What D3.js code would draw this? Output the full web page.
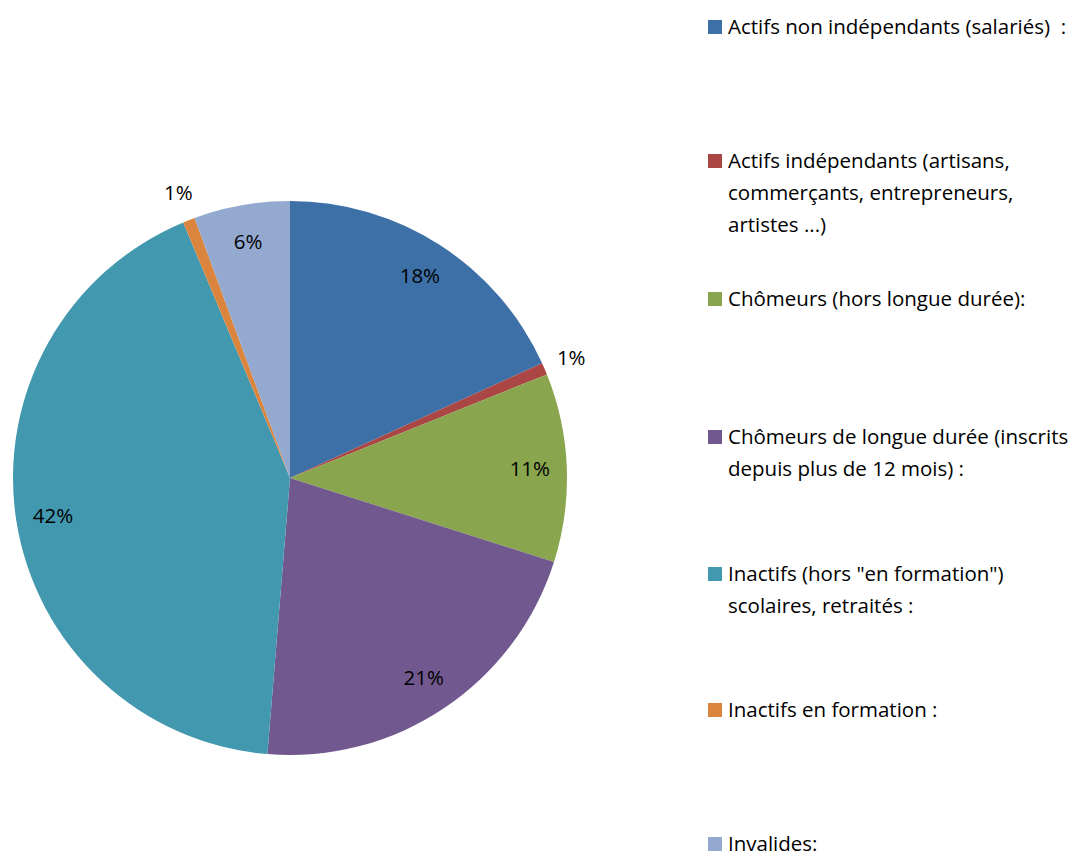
<!DOCTYPE html>
<html>
<head>
<meta charset="utf-8">
<script src="https://cdn.jsdelivr.net/npm/d3@7"></script>
<style>
  body { margin: 0; background: #fff; }
  svg { font-family: "Open Sans", Lato, sans-serif; }
</style>
</head>
<body>
<div id="chart"></div>
<script>
// Data
const categories = [
    ["Actifs non indépendants (salariés)  :"],
    ["Actifs indépendants (artisans,", "commerçants, entrepreneurs,", "artistes ...)"],
    ["Chômeurs (hors longue durée):"],
    ["Chômeurs de longue durée (inscrits", "depuis plus de 12 mois) :"],
    ["Inactifs (hors \"en formation\")", "scolaires, retraités :"],
    ["Inactifs en formation :"],
    ["Invalides:"]
];
const values = [18.2, 0.7, 11.0, 21.4, 42.4, 0.7, 5.6];
const colors = ["#3E70A8", "#AA4643", "#89A54E", "#71588F", "#4198AF", "#DB843D", "#93A9CF"];
const legendY = [27, 161, 299, 437, 574, 710, 844];

const width = 1085;
const height = 857;
const cx = 290, cy = 478, radius = 277;
const fontSize = 20.5;

const svg = d3.select("#chart")
    .append("svg")
    .attr("width", width)
    .attr("height", height);

const g = svg.append("g")
    .attr("transform", `translate(${cx},${cy})`);

const pie = d3.pie().sort(null).value(d => d);
const arcs = pie(values);

const arc = d3.arc().innerRadius(0).outerRadius(radius);
const labelArc = d3.arc().innerRadius(240).outerRadius(240);
const outerLabelArc = d3.arc().innerRadius(306).outerRadius(306);

g.selectAll("path")
    .data(arcs)
    .join("path")
    .attr("d", arc)
    .attr("fill", (d, i) => colors[i]);

const total = d3.sum(values);
g.selectAll("text.pct")
    .data(arcs)
    .join("text")
    .attr("class", "pct")
    .attr("transform", d => {
        const p = (d.data / total < 0.02 ? outerLabelArc : labelArc).centroid(d);
        return `translate(${p[0]},${p[1]})`;
    })
    .attr("text-anchor", "middle")
    .attr("dy", "0.35em")
    .attr("font-size", fontSize)
    .attr("fill", "#000")
    .text(d => Math.round(d.data / total * 100) + "%");

// Legend
const legend = svg.append("g");
const item = legend.selectAll("g")
    .data(categories)
    .join("g")
    .attr("transform", (d, i) => `translate(708,${legendY[i]})`);

item.append("rect")
    .attr("x", 0)
    .attr("y", -7)
    .attr("width", 14)
    .attr("height", 14)
    .attr("fill", (d, i) => colors[i]);

item.append("text")
    .attr("font-size", fontSize)
    .attr("fill", "#000")
    .selectAll("tspan")
    .data(d => d)
    .join("tspan")
    .attr("x", 20)
    .attr("y", (d, j) => j * 32)
    .attr("dy", "0.35em")
    .attr("xml:space", "preserve")
    .style("white-space", "pre")
    .text(d => d);
</script>
</body>
</html>
